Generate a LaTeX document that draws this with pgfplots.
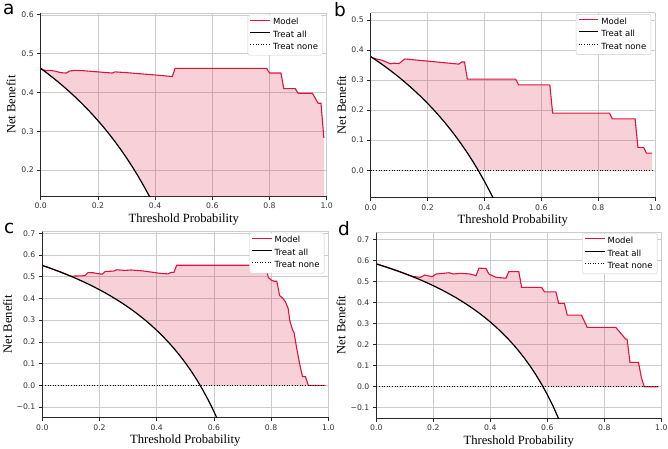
\documentclass[border=0pt]{standalone}
\usepackage{fontspec}
\setmainfont{DejaVu Sans}
\newfontfamily\tnr{Liberation Serif}
\usepackage{pgfplots}
\pgfplotsset{compat=1.18}
\usepgfplotslibrary{fillbetween}
\definecolor{crim}{RGB}{220,20,60}
\definecolor{gridc}{RGB}{204,204,204}
\definecolor{spine}{RGB}{40,40,40}
\pgfplotsset{
  dca/.style={
    scale only axis, xmin=0, xmax=1,
    axis x line*=bottom, axis y line*=left,
    axis line style={spine, line width=0.8pt},
    tick align=outside, major tick length=3.5pt,
    tick style={spine, line width=0.8pt},
    grid=major, major grid style={gridc, line width=0.7pt},
    xtick={0,0.2,0.4,0.6,0.8,1}, xticklabels={0.0,0.2,0.4,0.6,0.8,1.0},
    ticklabel style={font=\fontsize{7.7}{9}\selectfont, text=black!80},
    xlabel={Threshold Probability}, ylabel={Net Benefit},
    every axis x label/.style={at={(axis description cs:0.5,0)}, anchor=base, yshift=-26.5pt, font=\tnr\fontsize{12.6}{14}\selectfont},
    legend style={at={(1,1)}, anchor=north east, xshift=-4pt, yshift=-1.5pt,
      draw=gridc, rounded corners=2pt, fill=white,
      font=\fontsize{8.5}{9}\selectfont, inner xsep=2pt, inner ysep=1.5pt,
      nodes={text height=6.2pt, text depth=1.8pt, inner ysep=2.2pt, inner xsep=2.5pt}},
    legend cell align=left,
    legend image code/.code={\draw[#1] (0pt,2.6pt) -- (19.5pt,2.6pt);},
  },
  ylab/.style={every axis y label/.style={at={(axis description cs:-#1,0.5)}, rotate=90, anchor=center, font=\tnr\fontsize{12.6}{14}\selectfont}},
  model/.style={crim, line width=1.1pt},
  tall/.style={black, line width=1.2pt},
  tnone/.style={black, line width=1pt, dash pattern=on 1pt off 1.6pt},
}
\begin{document}
\begin{tikzpicture}
\node[anchor=base west, inner sep=0pt, font=\fontsize{18.5}{20}\selectfont] at (3pt,433pt) {a};
\node[anchor=base west, inner sep=0pt, font=\fontsize{18.5}{20}\selectfont] at (334pt,431.3pt) {b};
\node[anchor=base west, inner sep=0pt, font=\fontsize{18.5}{20}\selectfont] at (4pt,214.7pt) {c};
\node[anchor=base west, inner sep=0pt, font=\fontsize{18.5}{20}\selectfont] at (338pt,213pt) {d};

% ---------------- a
\begin{axis}[dca, at={(40.7pt,252pt)}, anchor=south west, width=286pt, height=182.7pt,
  ymin=0.133, ymax=0.604, ytick={0.2,0.3,0.4,0.5,0.6}, yticklabels={0.2,0.3,0.4,0.5,0.6}, ylab=0.104]
\draw[gridc, line width=0.7pt] (rel axis cs:0,1) -- (rel axis cs:1,1) -- (rel axis cs:1,0);
\addplot[draw=none, name path=ma, forget plot] coordinates {(0,0.461)(0.01,0.458)(0.02,0.456)(0.03,0.457)(0.05,0.455)(0.07,0.451)(0.09,0.450)(0.10,0.455)(0.12,0.457)(0.15,0.456)(0.20,0.453)(0.25,0.450)(0.26,0.453)(0.30,0.451)(0.35,0.448)(0.40,0.445)(0.46,0.441)(0.47,0.462)(0.79,0.462)(0.80,0.450)(0.84,0.450)(0.85,0.410)(0.89,0.410)(0.90,0.398)(0.95,0.398)(0.97,0.372)(0.98,0.372)(0.99,0.283)};
\addplot[draw=none, name path=la, forget plot] coordinates {(0,0.462)(0.02,0.4510)(0.04,0.4396)(0.06,0.4277)(0.08,0.4152)(0.10,0.4022)(0.12,0.3886)(0.14,0.3744)(0.16,0.3595)(0.18,0.3439)(0.20,0.3275)(0.22,0.3103)(0.24,0.2921)(0.26,0.2730)(0.28,0.2528)(0.30,0.2314)(0.32,0.2088)(0.34,0.1849)(0.36,0.1594)(0.38,0.1323)(0.40,0.1033)(0.42,0.0724)(0.44,0.0393)(0.46,0.0037)(0.462,0)(0.99,0)};
\addplot[crim, fill opacity=0.2, draw=none, forget plot] fill between[of=ma and la];
\addplot[model] coordinates {(0,0.461)(0.01,0.458)(0.02,0.456)(0.03,0.457)(0.05,0.455)(0.07,0.451)(0.09,0.450)(0.10,0.455)(0.12,0.457)(0.15,0.456)(0.20,0.453)(0.25,0.450)(0.26,0.453)(0.30,0.451)(0.35,0.448)(0.40,0.445)(0.46,0.441)(0.47,0.462)(0.79,0.462)(0.80,0.450)(0.84,0.450)(0.85,0.410)(0.89,0.410)(0.90,0.398)(0.95,0.398)(0.97,0.372)(0.98,0.372)(0.99,0.283)};
\addlegendentry{Model}
\addplot[tall] coordinates {(0,0.462)(0.02,0.4510)(0.04,0.4396)(0.06,0.4277)(0.08,0.4152)(0.10,0.4022)(0.12,0.3886)(0.14,0.3744)(0.16,0.3595)(0.18,0.3439)(0.20,0.3275)(0.22,0.3103)(0.24,0.2921)(0.26,0.2730)(0.28,0.2528)(0.30,0.2314)(0.32,0.2088)(0.34,0.1849)(0.36,0.1594)(0.38,0.1323)(0.40,0.1033)(0.42,0.0724)};
\addlegendentry{Treat all}
\addplot[tnone] coordinates {(0,0)(0.99,0)};
\addlegendentry{Treat none}
\end{axis}

% ---------------- b
\begin{axis}[dca, at={(370.7pt,250.7pt)}, anchor=south west, width=284.3pt, height=184.6pt,
  ymin=-0.090, ymax=0.524, ytick={0,0.1,0.2,0.3,0.4,0.5}, yticklabels={0.0,0.1,0.2,0.3,0.4,0.5}, ylab=0.103]
\draw[gridc, line width=0.7pt] (rel axis cs:0,1) -- (rel axis cs:1,1) -- (rel axis cs:1,0);
\addplot[draw=none, name path=mb, forget plot] coordinates {(0,0.376)(0.02,0.370)(0.04,0.366)(0.07,0.354)(0.08,0.356)(0.10,0.355)(0.12,0.370)(0.20,0.363)(0.31,0.353)(0.32,0.360)(0.33,0.360)(0.34,0.303)(0.51,0.303)(0.52,0.284)(0.63,0.284)(0.64,0.190)(0.84,0.190)(0.85,0.171)(0.93,0.171)(0.94,0.076)(0.96,0.076)(0.97,0.057)(0.99,0.057)};
\addplot[draw=none, name path=lb, forget plot] coordinates {(0,0.378)(0.02,0.3653)(0.04,0.3521)(0.06,0.3383)(0.08,0.3239)(0.10,0.3089)(0.12,0.2932)(0.14,0.2767)(0.16,0.2595)(0.18,0.2415)(0.20,0.2225)(0.22,0.2026)(0.24,0.1816)(0.26,0.1595)(0.28,0.1361)(0.30,0.1114)(0.32,0.0853)(0.34,0.0576)(0.36,0.0281)(0.378,0)(0.99,0)};
\addplot[crim, fill opacity=0.2, draw=none, forget plot] fill between[of=mb and lb];
\addplot[model] coordinates {(0,0.376)(0.02,0.370)(0.04,0.366)(0.07,0.354)(0.08,0.356)(0.10,0.355)(0.12,0.370)(0.20,0.363)(0.31,0.353)(0.32,0.360)(0.33,0.360)(0.34,0.303)(0.51,0.303)(0.52,0.284)(0.63,0.284)(0.64,0.190)(0.84,0.190)(0.85,0.171)(0.93,0.171)(0.94,0.076)(0.96,0.076)(0.97,0.057)(0.99,0.057)};
\addlegendentry{Model}
\addplot[tall] coordinates {(0,0.378)(0.02,0.3653)(0.04,0.3521)(0.06,0.3383)(0.08,0.3239)(0.10,0.3089)(0.12,0.2932)(0.14,0.2767)(0.16,0.2595)(0.18,0.2415)(0.20,0.2225)(0.22,0.2026)(0.24,0.1816)(0.26,0.1595)(0.28,0.1361)(0.30,0.1114)(0.32,0.0853)(0.34,0.0576)(0.36,0.0281)(0.38,-0.0032)(0.40,-0.0367)(0.42,-0.0724)(0.44,-0.1107)};
\addlegendentry{Treat all}
\addplot[tnone] coordinates {(0,0)(0.99,0)};
\addlegendentry{Treat none}
\end{axis}

% ---------------- c
\begin{axis}[dca, at={(42.3pt,30.7pt)}, anchor=south west, width=286pt, height=186pt,
  ymin=-0.147, ymax=0.709, ytick={-0.1,0,0.1,0.2,0.3,0.4,0.5,0.6,0.7}, yticklabels={−0.1,0.0,0.1,0.2,0.3,0.4,0.5,0.6,0.7}, ylab=0.122]
\draw[gridc, line width=0.7pt] (rel axis cs:0,1) -- (rel axis cs:1,1) -- (rel axis cs:1,0);
\addplot[draw=none, name path=mc, forget plot] coordinates {(0,0.552)(0.02,0.5429)(0.04,0.5333)(0.06,0.5234)(0.08,0.5130)(0.10,0.5022)(0.11,0.503)(0.14,0.504)(0.15,0.506)(0.16,0.519)(0.18,0.518)(0.20,0.513)(0.21,0.512)(0.22,0.524)(0.25,0.526)(0.26,0.532)(0.29,0.529)(0.31,0.531)(0.35,0.527)(0.41,0.516)(0.44,0.513)(0.45,0.520)(0.46,0.520)(0.47,0.553)(0.78,0.553)(0.785,0.53)(0.79,0.497)(0.80,0.485)(0.81,0.479)(0.82,0.479)(0.83,0.413)(0.84,0.402)(0.85,0.385)(0.86,0.352)(0.865,0.30)(0.875,0.255)(0.88,0.244)(0.89,0.167)(0.90,0.098)(0.905,0.068)(0.91,0.040)(0.92,0.040)(0.93,0.0)(0.99,0.0)};
\addplot[draw=none, name path=lc, forget plot] coordinates {(0,0.552)(0.02,0.5429)(0.04,0.5333)(0.06,0.5234)(0.08,0.5130)(0.10,0.5022)(0.12,0.4909)(0.14,0.4791)(0.16,0.4667)(0.18,0.4537)(0.20,0.4400)(0.22,0.4256)(0.24,0.4105)(0.26,0.3946)(0.28,0.3778)(0.30,0.3600)(0.32,0.3412)(0.34,0.3212)(0.36,0.3000)(0.38,0.2774)(0.40,0.2533)(0.42,0.2276)(0.44,0.2000)(0.46,0.1704)(0.48,0.1385)(0.50,0.1040)(0.52,0.0667)(0.54,0.0261)(0.552,0)(0.99,0)};
\addplot[crim, fill opacity=0.2, draw=none, forget plot] fill between[of=mc and lc];
\addplot[model] coordinates {(0,0.552)(0.02,0.5429)(0.04,0.5333)(0.06,0.5234)(0.08,0.5130)(0.10,0.5022)(0.11,0.503)(0.14,0.504)(0.15,0.506)(0.16,0.519)(0.18,0.518)(0.20,0.513)(0.21,0.512)(0.22,0.524)(0.25,0.526)(0.26,0.532)(0.29,0.529)(0.31,0.531)(0.35,0.527)(0.41,0.516)(0.44,0.513)(0.45,0.520)(0.46,0.520)(0.47,0.553)(0.78,0.553)(0.785,0.53)(0.79,0.497)(0.80,0.485)(0.81,0.479)(0.82,0.479)(0.83,0.413)(0.84,0.402)(0.85,0.385)(0.86,0.352)(0.865,0.30)(0.875,0.255)(0.88,0.244)(0.89,0.167)(0.90,0.098)(0.905,0.068)(0.91,0.040)(0.92,0.040)(0.93,0.0)(0.99,0.0)};
\addlegendentry{Model}
\addplot[tall] coordinates {(0,0.552)(0.02,0.5429)(0.04,0.5333)(0.06,0.5234)(0.08,0.5130)(0.10,0.5022)(0.12,0.4909)(0.14,0.4791)(0.16,0.4667)(0.18,0.4537)(0.20,0.4400)(0.22,0.4256)(0.24,0.4105)(0.26,0.3946)(0.28,0.3778)(0.30,0.3600)(0.32,0.3412)(0.34,0.3212)(0.36,0.3000)(0.38,0.2774)(0.40,0.2533)(0.42,0.2276)(0.44,0.2000)(0.46,0.1704)(0.48,0.1385)(0.50,0.1040)(0.52,0.0667)(0.54,0.0261)(0.56,-0.0182)(0.58,-0.0667)(0.60,-0.1200)(0.62,-0.1790)};
\addlegendentry{Treat all}
\addplot[tnone] coordinates {(0,0)(0.99,0)};
\addlegendentry{Treat none}
\end{axis}

% ---------------- d
\begin{axis}[dca, at={(376.3pt,30pt)}, anchor=south west, width=285pt, height=186pt,
  ymin=-0.149, ymax=0.737, ytick={-0.1,0,0.1,0.2,0.3,0.4,0.5,0.6,0.7}, yticklabels={−0.1,0.0,0.1,0.2,0.3,0.4,0.5,0.6,0.7}, ylab=0.124]
\draw[gridc, line width=0.7pt] (rel axis cs:0,1) -- (rel axis cs:1,1) -- (rel axis cs:1,0);
\addplot[draw=none, name path=md, forget plot] coordinates {(0,0.585)(0.02,0.5765)(0.04,0.5677)(0.06,0.5585)(0.08,0.5489)(0.10,0.5389)(0.12,0.5284)(0.13,0.525)(0.155,0.521)(0.17,0.532)(0.195,0.524)(0.21,0.537)(0.235,0.540)(0.255,0.543)(0.27,0.537)(0.295,0.540)(0.33,0.537)(0.35,0.529)(0.36,0.565)(0.385,0.563)(0.395,0.537)(0.42,0.521)(0.455,0.517)(0.465,0.548)(0.50,0.548)(0.51,0.473)(0.58,0.473)(0.59,0.452)(0.63,0.452)(0.64,0.397)(0.66,0.397)(0.67,0.341)(0.72,0.341)(0.74,0.283)(0.84,0.283)(0.86,0.251)(0.875,0.227)(0.88,0.227)(0.89,0.116)(0.92,0.116)(0.93,0.044)(0.94,0.0)(0.99,0.0)};
\addplot[draw=none, name path=ld, forget plot] coordinates {(0,0.585)(0.02,0.5765)(0.04,0.5677)(0.06,0.5585)(0.08,0.5489)(0.10,0.5389)(0.12,0.5284)(0.14,0.5174)(0.16,0.5060)(0.18,0.4939)(0.20,0.4813)(0.22,0.4680)(0.24,0.4539)(0.26,0.4392)(0.28,0.4236)(0.30,0.4071)(0.32,0.3897)(0.34,0.3712)(0.36,0.3516)(0.38,0.3306)(0.40,0.3083)(0.42,0.2845)(0.44,0.2589)(0.46,0.2315)(0.48,0.2019)(0.50,0.1700)(0.52,0.1354)(0.54,0.0978)(0.56,0.0568)(0.58,0.0119)(0.585,0)(0.99,0)};
\addplot[crim, fill opacity=0.2, draw=none, forget plot] fill between[of=md and ld];
\addplot[model] coordinates {(0,0.585)(0.02,0.5765)(0.04,0.5677)(0.06,0.5585)(0.08,0.5489)(0.10,0.5389)(0.12,0.5284)(0.13,0.525)(0.155,0.521)(0.17,0.532)(0.195,0.524)(0.21,0.537)(0.235,0.540)(0.255,0.543)(0.27,0.537)(0.295,0.540)(0.33,0.537)(0.35,0.529)(0.36,0.565)(0.385,0.563)(0.395,0.537)(0.42,0.521)(0.455,0.517)(0.465,0.548)(0.50,0.548)(0.51,0.473)(0.58,0.473)(0.59,0.452)(0.63,0.452)(0.64,0.397)(0.66,0.397)(0.67,0.341)(0.72,0.341)(0.74,0.283)(0.84,0.283)(0.86,0.251)(0.875,0.227)(0.88,0.227)(0.89,0.116)(0.92,0.116)(0.93,0.044)(0.94,0.0)(0.99,0.0)};
\addlegendentry{Model}
\addplot[tall] coordinates {(0,0.585)(0.02,0.5765)(0.04,0.5677)(0.06,0.5585)(0.08,0.5489)(0.10,0.5389)(0.12,0.5284)(0.14,0.5174)(0.16,0.5060)(0.18,0.4939)(0.20,0.4813)(0.22,0.4680)(0.24,0.4539)(0.26,0.4392)(0.28,0.4236)(0.30,0.4071)(0.32,0.3897)(0.34,0.3712)(0.36,0.3516)(0.38,0.3306)(0.40,0.3083)(0.42,0.2845)(0.44,0.2589)(0.46,0.2315)(0.48,0.2019)(0.50,0.1700)(0.52,0.1354)(0.54,0.0978)(0.56,0.0568)(0.58,0.0119)(0.60,-0.0375)(0.62,-0.0921)(0.64,-0.1528)(0.66,-0.2206)};
\addlegendentry{Treat all}
\addplot[tnone] coordinates {(0,0)(0.99,0)};
\addlegendentry{Treat none}
\end{axis}
\pgfresetboundingbox
\path[use as bounding box] (0,0) rectangle (668pt,448pt);
\end{tikzpicture}
\end{document}
